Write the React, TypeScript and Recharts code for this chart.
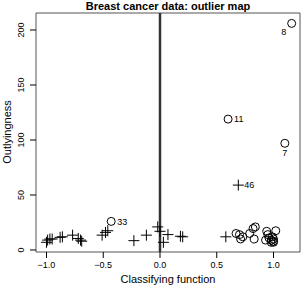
import React from 'react';
import { ScatterChart, Scatter, XAxis, YAxis, ReferenceLine, ReferenceArea } from 'recharts';

// "+" points (one group)
const plusX = [-1.0, -0.99, -0.97, -0.95, -0.88, -0.86, -0.77, -0.72, -0.70, -0.69, -0.51, -0.48, -0.46, -0.23, -0.12, -0.02, 0.0, 0.03, 0.07, 0.18, 0.20, 0.58, 0.69];
const plusY = [7, 9, 10, 10, 11.5, 12, 13.5, 10.5, 9, 8, 13.5, 16, 17.5, 8.5, 13.5, 21, 17, 7, 14, 12.5, 12, 12, 59];
const plusLabels = ['', '', '', '', '', '', '', '', '', '', '', '', '', '', '', '', '', '', '', '', '', '', '46'];

// "o" points (other group)
const circX = [-0.43, 0.6, 1.1, 1.16, 0.67, 0.70, 0.71, 0.73, 0.79, 0.82, 0.84, 0.83, 0.93, 0.94, 0.95, 0.96, 0.98, 0.98, 0.99, 1.0, 1.0, 1.0, 1.02];
const circY = [26, 119, 97, 206, 15, 14, 10, 12, 15, 19.5, 21, 10, 9, 17, 14, 11, 9, 7, 12, 8, 10, 7, 17.5];
const circLabels = ['33', '11', '7', '8', '', '', '', '', '', '', '', '', '', '', '', '', '', '', '', '', '', '', ''];

const xTicks = [-1, -0.5, 0, 0.5, 1];
const yTicks = [0, 50, 100, 150, 200];

const title = 'Breast cancer data: outlier map';
const xLabel = 'Classifying function';
const yLabel = 'Outlyingness';

const plusData = plusX.map((x, i) => ({ x, y: plusY[i], label: plusLabels[i] }));
const circData = circX.map((x, i) => ({ x, y: circY[i], label: circLabels[i] }));

const FONT = '"Liberation Sans", Arial, Helvetica, sans-serif';

const labelPos: Record<string, { dx: number; dy: number; anchor: 'start' | 'middle' | 'end' }> = {
  '8': { dx: -8, dy: 8, anchor: 'middle' },
  '11': { dx: 6, dy: 0, anchor: 'start' },
  '7': { dx: 0, dy: 9, anchor: 'middle' },
  '33': { dx: 6, dy: 0, anchor: 'start' },
  '46': { dx: 6, dy: 0, anchor: 'start' },
};

const PointLabel = ({ cx, cy, label }: any) => {
  if (!label) return null;
  const p = labelPos[label] || { dx: 6, dy: 0, anchor: 'start' };
  return (
    <text x={cx + p.dx} y={cy + p.dy + 3.3} textAnchor={p.anchor} fontSize={9} fontFamily={FONT} fill="#000">
      {label}
    </text>
  );
};

const PlusShape = (props: any) => {
  const { cx, cy, payload } = props;
  const s = 5.5;
  return (
    <g>
      <line x1={cx - s} x2={cx + s} y1={cy} y2={cy} stroke="#000" strokeWidth={1} />
      <line x1={cx} x2={cx} y1={cy - s} y2={cy + s} stroke="#000" strokeWidth={1} />
      <PointLabel cx={cx} cy={cy} label={payload.label} />
    </g>
  );
};

const CircleShape = (props: any) => {
  const { cx, cy, payload } = props;
  return (
    <g>
      <circle cx={cx} cy={cy} r={4} fill="none" stroke="#000" strokeWidth={1} />
      <PointLabel cx={cx} cy={cy} label={payload.label} />
    </g>
  );
};

const XTick = (props: any) => {
  const { x, y, payload } = props;
  const v = payload.value as number;
  const s = (v < 0 ? '\u2212' : '') + Math.abs(v).toFixed(1);
  return (
    <text x={x} y={y + 9.5} textAnchor="middle" fontSize={9} fontFamily={FONT} fill="#000">
      {s}
    </text>
  );
};

const YTick = (props: any) => {
  const { y, payload } = props;
  const x = 24.5;
  return (
    <text x={x} y={y} textAnchor="middle" fontSize={9} fontFamily={FONT} fill="#000" transform={`rotate(-90, ${x}, ${y})`}>
      {String(payload.value)}
    </text>
  );
};

const X_DOMAIN: [number, number] = [-1.0925, 1.2335];
const Y_DOMAIN: [number, number] = [-1.82, 215.45];

export default function App() {
  return (
    <div style={{ position: 'fixed', left: 0, top: 0, width: 302, height: 288, background: '#fff' }}>
      <ScatterChart width={302} height={288} margin={{ top: 13, right: 2, bottom: 0, left: 0 }}>
        <XAxis
          type="number"
          dataKey="x"
          domain={X_DOMAIN}
          allowDataOverflow
          ticks={xTicks}
          interval={0}
          height={36}
          tickSize={6}
          tickMargin={0}
          tickLine={{ stroke: '#000' }}
          axisLine={false}
          tick={<XTick />}
        />
        <YAxis
          type="number"
          dataKey="y"
          domain={Y_DOMAIN}
          allowDataOverflow
          ticks={yTicks}
          interval={0}
          width={36}
          tickSize={6}
          tickMargin={0}
          tickLine={{ stroke: '#000' }}
          axisLine={false}
          tick={<YTick />}
        />
        <ReferenceArea
          x1={X_DOMAIN[0]}
          x2={X_DOMAIN[1]}
          y1={Y_DOMAIN[0]}
          y2={Y_DOMAIN[1]}
          fill="none"
          fillOpacity={0}
          stroke="#555"
          strokeWidth={1}
          ifOverflow="visible"
        />
        <ReferenceLine x={0} stroke="#333" strokeWidth={2.5} ifOverflow="visible" />
        <Scatter data={plusData} shape={<PlusShape />} isAnimationActive={false} />
        <Scatter data={circData} shape={<CircleShape />} isAnimationActive={false} />
      </ScatterChart>
      <svg width={302} height={288} style={{ position: 'absolute', left: 0, top: 0, pointerEvents: 'none' }}>
        <text x={168} y={10} textAnchor="middle" fontSize={11} fontWeight="bold" fontFamily={FONT} fill="#000">
          {title}
        </text>
        <text x={168} y={283} textAnchor="middle" fontSize={11} fontFamily={FONT} fill="#000">
          {xLabel}
        </text>
        <text x={10.5} y={132} textAnchor="middle" fontSize={11} fontFamily={FONT} fill="#000" transform="rotate(-90, 10.5, 132)">
          {yLabel}
        </text>
      </svg>
    </div>
  );
}
